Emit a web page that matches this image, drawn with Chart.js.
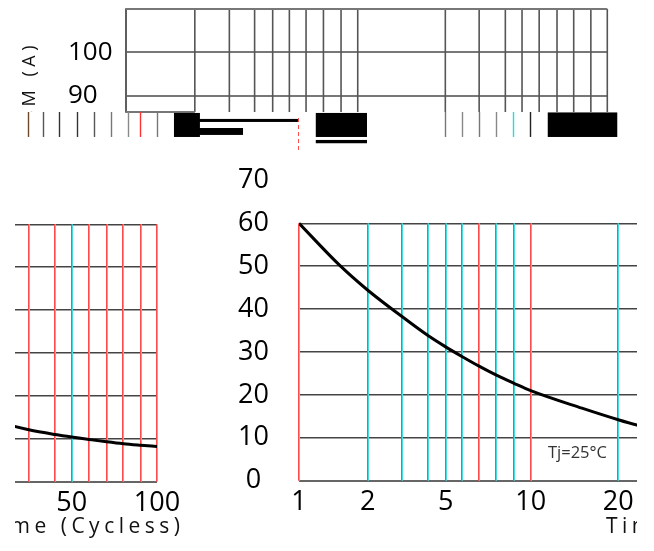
<!DOCTYPE html>
<html>
<head>
<meta charset="utf-8">
<script src="https://cdn.jsdelivr.net/npm/chart.js@4.4.1/dist/chart.umd.min.js"></script>
<style>
  body { margin: 0; background: #fff; width: 654px; height: 551px; overflow: hidden; position: relative; font-family: 'Open Sans', sans-serif; }
  canvas { position: absolute; }
  .clip { position: absolute; overflow: hidden; }
  .ttl { position: absolute; white-space: nowrap; font-size: 21px; line-height: 21px; letter-spacing: 4.5px; color: #111; }
  .ylab { position: absolute; white-space: nowrap; writing-mode: vertical-rl; transform: rotate(180deg); font-size: 18px; line-height: 24px; letter-spacing: 4.5px; color: #111; }
  .note { position: absolute; white-space: nowrap; font-size: 16.5px; line-height: 16.5px; color: #333; }
</style>
</head>
<body>
<canvas id="topChart" width="654" height="160" style="left:0;top:0"></canvas>
<canvas id="wrapChart" width="190" height="391" style="left:0;top:160px"></canvas>
<canvas id="mainChart" width="407" height="391" style="left:230px;top:160px"></canvas>

<div class="clip" style="left:0;top:0;width:60px;height:112px"><span class="ylab" style="left:16px;top:41px">IFSM (A)</span></div>
<div class="clip" style="left:15px;top:515px;width:175px;height:30px"><span class="ttl" style="right:5.5px;top:0">Time (Cycless)</span></div>
<div class="clip" style="left:606px;top:515px;width:31px;height:30px"><span class="ttl" style="left:0;top:0">Time (Cycless)</span></div>
<span class="note" style="left:548px;top:444px">Tj=25°C</span>

<script>
// DATA
// grid lines of the (distorted) cycles axis, and where they sit, in decades from 1
var gridCycles = [1, 2, 3, 4, 5, 6, 7, 8, 9, 10, 20, 30, 40, 50, 60, 70, 80, 90, 100];
var gridPos = [0, 0.297, 0.446, 0.555, 0.633, 0.705, 0.777, 0.852, 0.928, 1, 1.378, 1.524, 1.637, 1.709, 1.783, 1.860, 1.932, 2.006, 2.077];
var labelCycles = [1, 2, 5, 10, 20, 50, 100];
var yTicksMain = [0, 10, 20, 30, 40, 50, 60, 70];
var yTicksTop = [90, 100];

// surge current curve
var cycles = [1, 1.5, 2, 3, 4, 5, 6, 7, 8, 9, 10, 15, 20, 25, 30, 40, 50, 60, 70, 80, 90, 100];
var ifsm = [60, 50.3, 44.4, 38.2, 33.9, 31.2, 28.9, 26.7, 24.6, 22.7, 21.0, 16.9, 14.2, 12.95, 12.1, 11.0, 10.4, 9.85, 9.3, 8.85, 8.5, 8.2];

// broken strip under the top panel (top panel units: decades / amps)
var stripTicks = [-0.423, -0.360, -0.288, -0.213, -0.138, -0.065, 0.007, 0.060, 0.134, 1.378, 1.450, 1.524, 1.597, 1.670, 1.744];
var stripTickColors = ['#6b4a2a', '#555', '#333', '#333', '#555', '#777', '#888', '#f33', '#777', '#777', '#888', '#777', '#888', '#2dd', '#222'];
var stripBlocks = [
  [0.207, 0.319, 85.98, 80.43],
  [0.298, 0.742, 84.6, 83.9],
  [0.298, 0.505, 82.5, 80.9],
  [0.819, 1.040, 85.98, 80.43],
  [0.819, 1.040, 79.74, 78.98],
  [1.820, 2.120, 86.1, 80.43]
];

Chart.defaults.font.family = "'Open Sans', sans-serif";
Chart.defaults.color = '#000';

// cycles -> axis position
function posOf(c) {
  for (var i = 0; i < gridCycles.length - 1; i++) {
    var a = gridCycles[i], b = gridCycles[i + 1];
    if (c >= a && c <= b) {
      var f = Math.log(c / a) / Math.log(b / a);
      return gridPos[i] + f * (gridPos[i + 1] - gridPos[i]);
    }
  }
  return gridPos[gridPos.length - 1];
}

function cycleLabel(v) {
  for (var i = 0; i < labelCycles.length; i++) {
    if (Math.abs(posOf(labelCycles[i]) - v) < 1e-6) return String(labelCycles[i]);
  }
  return '';
}

var curve = cycles.map(function (c, i) { return { x: posOf(c), y: ifsm[i] }; });

// red/cyan vertical grid lines, only up to 60 A
var vlines = {
  id: 'vlines',
  beforeDatasetsDraw: function (chart, args, opts) {
    var x = chart.scales.x, y = chart.scales.y, ctx = chart.ctx;
    var y0 = y.getPixelForValue(opts.from), y1 = y.getPixelForValue(opts.to);
    ctx.save();
    ctx.lineWidth = 1;
    gridPos.forEach(function (p) {
      if (p < x.min - 0.002 || p > x.max + 0.002) return;
      var px = Math.round(x.getPixelForValue(p)) - 0.5;
      ctx.strokeStyle = '#ff4a4a';
      ctx.beginPath(); ctx.moveTo(px, y0); ctx.lineTo(px, y1); ctx.stroke();
      ctx.strokeStyle = '#45dede';
      ctx.beginPath(); ctx.moveTo(px + 1, y0); ctx.lineTo(px + 1, y1); ctx.stroke();
    });
    ctx.restore();
  }
};

function lowerChart(id, xmin, xmax, padTop, padRight, yWidth, xHeight, showY) {
  return new Chart(document.getElementById(id), {
    type: 'line',
    data: {
      datasets: [{
        data: curve,
        borderColor: '#000',
        borderWidth: 3,
        pointRadius: 0,
        cubicInterpolationMode: 'monotone',
        fill: false
      }]
    },
    options: {
      responsive: false,
      animation: false,
      devicePixelRatio: 1,
      layout: { padding: { top: padTop, right: padRight, left: 0, bottom: 0 } },
      plugins: { legend: { display: false }, tooltip: { enabled: false }, vlines: { from: 0, to: 60 } },
      scales: {
        x: {
          type: 'linear', min: xmin, max: xmax,
          afterFit: function (s) { s.height = xHeight; s.paddingLeft = 0; s.paddingRight = 0; },
          afterBuildTicks: function (s) {
            s.ticks = labelCycles.map(posOf).filter(function (p) { return p >= xmin - 0.01 && p <= xmax + 0.01; })
              .map(function (p) { return { value: p }; });
          },
          grid: { display: false },
          border: { display: false },
          ticks: { autoSkip: false, maxRotation: 0, padding: -3, font: { size: 27 }, color: '#000', callback: cycleLabel }
        },
        y: {
          min: 0, max: 70,
          afterFit: function (s) { s.width = yWidth; s.paddingTop = 0; s.paddingBottom = 0; },
          afterBuildTicks: function (s) { s.ticks = yTicksMain.map(function (v) { return { value: v }; }); },
          grid: {
            drawTicks: false,
            color: function (c) { return c.tick.value === 70 ? 'rgba(0,0,0,0)' : (c.tick.value === 0 ? '#666' : '#444'); },
            lineWidth: function (c) { return c.tick.value === 0 ? 2 : 1.4; }
          },
          border: { display: false },
          ticks: { display: showY, padding: 30, crossAlign: 'center', font: { size: 27 }, color: '#000' }
        }
      }
    },
    plugins: [vlines]
  });
}

// main panel, 1 .. ~25 cycles
lowerChart('mainChart', 0, 1.4588, 20.4, 0, 69, 70.3, true);
// wrapped remainder, ~25 .. 100 cycles
lowerChart('wrapChart', 1.4642, 2.077, 21.4, 33, 15, 69.3, false);

// top panel (90..110 A) with the broken strip below it
var topDeco = {
  id: 'topDeco',
  beforeDatasetsDraw: function (chart) {
    var x = chart.scales.x, y = chart.scales.y, ctx = chart.ctx;
    var yb = y.getPixelForValue(y.min), yt = y.getPixelForValue(y.max);
    ctx.save();
    ctx.strokeStyle = '#555';
    ctx.lineWidth = 1.6;
    gridPos.forEach(function (p) {
      var px = x.getPixelForValue(p);
      ctx.beginPath(); ctx.moveTo(px, yb); ctx.lineTo(px, yt); ctx.stroke();
    });
    ctx.strokeStyle = '#777';
    ctx.lineWidth = 2;
    ctx.beginPath(); ctx.moveTo(x.getPixelForValue(0), yt); ctx.lineTo(x.getPixelForValue(2.077), yt); ctx.stroke();
    ctx.beginPath(); ctx.moveTo(x.getPixelForValue(0), yb); ctx.lineTo(x.getPixelForValue(gridPos[1]), yb); ctx.stroke();

    // strip
    ctx.lineWidth = 1.4;
    stripTicks.forEach(function (p, i) {
      var px = Math.round(x.getPixelForValue(p)) + 0.5;
      ctx.strokeStyle = stripTickColors[i];
      ctx.beginPath(); ctx.moveTo(px, y.getPixelForValue(86.2)); ctx.lineTo(px, y.getPixelForValue(80.43)); ctx.stroke();
    });
    ctx.fillStyle = '#000';
    stripBlocks.forEach(function (b) {
      var x0 = x.getPixelForValue(b[0]), x1 = x.getPixelForValue(b[1]);
      var y0 = y.getPixelForValue(b[2]), y1 = y.getPixelForValue(b[3]);
      ctx.fillRect(x0, y0, x1 - x0, y1 - y0);
    });
    ctx.strokeStyle = '#ff4a4a';
    ctx.lineWidth = 1;
    ctx.setLineDash([4, 3]);
    var rx = Math.round(x.getPixelForValue(0.742)) + 0.5;
    ctx.beginPath(); ctx.moveTo(rx, y.getPixelForValue(84.8)); ctx.lineTo(rx, y.getPixelForValue(77.43)); ctx.stroke();
    ctx.restore();
  }
};

new Chart(document.getElementById('topChart'), {
  type: 'scatter',
  data: { datasets: [] },
  options: {
    responsive: false,
    animation: false,
    devicePixelRatio: 1,
    layout: { padding: { top: 9, right: 46.7, left: 68, bottom: 48 } },
    plugins: { legend: { display: false }, tooltip: { enabled: false } },
    scales: {
      x: { type: 'linear', min: 0, max: 2.077, display: false },
      y: {
        min: 86.2, max: 110,
        afterFit: function (s) { s.width = 58; s.paddingTop = 0; s.paddingBottom = 0; },
        afterBuildTicks: function (s) { s.ticks = yTicksTop.map(function (v) { return { value: v }; }); },
        grid: { drawTicks: false, color: '#777', lineWidth: 2 },
        border: { display: true, color: '#888', width: 2 },
        ticks: { crossAlign: 'far', font: { size: 26 }, color: '#000' }
      }
    }
  },
  plugins: [topDeco]
});
</script>
</body>
</html>
